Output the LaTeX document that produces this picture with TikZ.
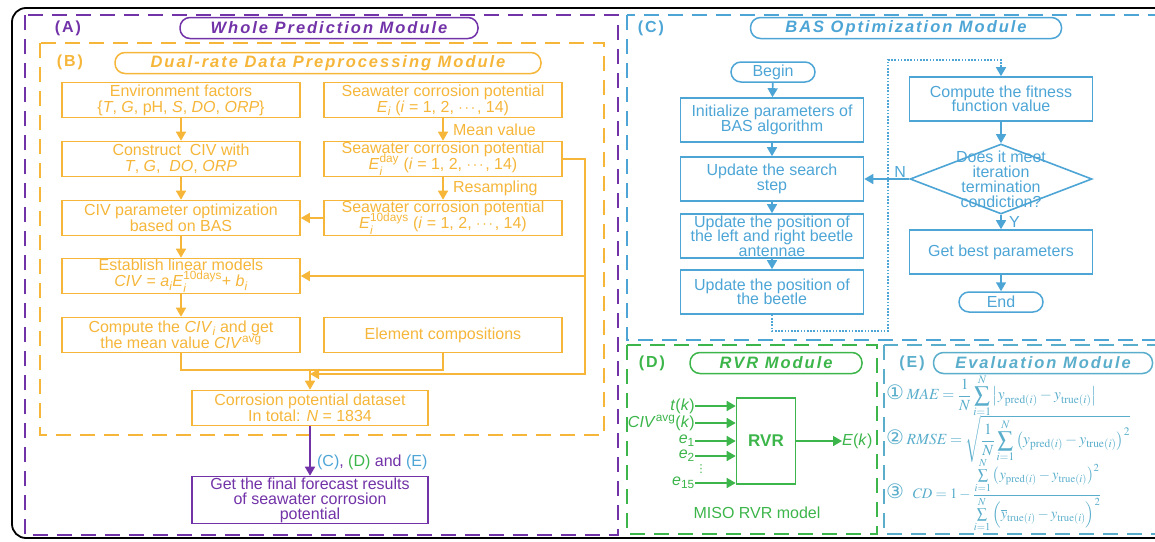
\documentclass[tikz,border=0pt]{standalone}
\usepackage{mathptmx}
\usepackage{amsmath}
\usepackage[no-math]{fontspec}
\setmainfont{Liberation Sans}
\newfontfamily\titlefont[LetterSpace=12]{Liberation Sans}
\newfontfamily\circfont{DejaVu Sans}
\usetikzlibrary{arrows.meta,shapes.geometric}

\definecolor{modA}{HTML}{7232A8}
\definecolor{modB}{HTML}{F5B63A}
\definecolor{modC}{HTML}{4DA5D6}
\definecolor{modD}{HTML}{3CB54A}
\definecolor{modE}{HTML}{5AAECB}

% keep the lines of a box at a fixed distance, super- and subscripts included
\newcommand\tightlines{\lineskiplimit=-20pt\lineskip=0pt\relax}

\begin{document}
\begin{tikzpicture}[
x=1pt, y=-1pt,
font=\fontsize{16}{16}\selectfont\tightlines,
frame/.style={line width=1.8pt, dash pattern=on 15pt off 9pt},
pill/.style={draw, line width=1.5pt, rounded corners=10pt, minimum height=21pt,
  inner sep=0pt, font=\fontsize{16.5}{16}\titlefont\bfseries\itshape},
tag/.style={font=\fontsize{16}{16}\titlefont\bfseries},
box/.style={draw, line width=1.6pt, align=center, inner sep=0pt},
obox/.style={box, draw=modB, text=modB, minimum width=238pt, minimum height=35pt},
pbox/.style={box, draw=modA, text=modA, minimum width=236pt, minimum height=47pt,
  font=\fontsize{16}{15}\selectfont\tightlines},
cbox/.style={box, draw=modC, text=modC, minimum width=183pt, minimum height=44pt,
  font=\fontsize{16}{14.5}\selectfont\tightlines},
cpill/.style={draw=modC, text=modC, line width=1.5pt, rounded corners=10pt,
  minimum width=84pt, minimum height=20pt, inner sep=0pt},
oline/.style={draw=modB, line width=1.6pt},
oarr/.style={oline, -{Triangle[length=9pt,width=10pt]}},
parr/.style={draw=modA, line width=1.6pt, -{Triangle[length=9pt,width=10pt]}},
carr/.style={draw=modC, line width=1.6pt, -{Triangle[length=9pt,width=10pt]}},
cdot/.style={carr, dash pattern=on 1.6pt off 1.6pt},
garr/.style={draw=modD, line width=1.6pt, -{Triangle[length=9pt,width=10pt]}},
gtext/.style={text=modD, inner sep=0pt},
eform/.style={text=modE, anchor=west, inner sep=0pt, font=\fontsize{15.5}{15}\selectfont}
]
\useasboundingbox (0,0) rectangle (1155,541);
\clip (0,0) rectangle (1155,541);

\draw[line width=1.8pt, rounded corners=14pt] (12,8) rectangle (1190,538);

% module frames
\draw[frame, draw=modA] (25,15) rectangle (618,535);
\draw[frame, draw=modB] (40,43) rectangle (604,435);
\draw[frame, draw=modC] (627,15) rectangle (1170,340);
\draw[frame, draw=modD] (627,345) rectangle (877,534);
\draw[frame, draw=modE] (884,345) rectangle (1170,534);

% (A) and (B)
\node[tag, text=modA] (TagA) at (68,28) {(A)};
\node[pill, draw=modA, text=modA, minimum width=298pt] (TitleA) at (329,28) {Whole Prediction Module};
\node[tag, text=modB] (TagB) at (70,62) {(B)};
\node[pill, draw=modB, text=modB, minimum width=426pt] (TitleB) at (328,63) {Dual-rate Data Preprocessing Module};

\node[obox] (Env) at (181,100) {Environment factors\\\{\textit{T}, \textit{G}, pH, \textit{S}, \textit{DO}, \textit{ORP}\}};
\node[obox] (Cons) at (181,159) {Construct\ \ CIV with\\\textit{T}, \textit{G},\ \ \textit{DO}, \textit{ORP}};
\node[obox] (Opt) at (181,218) {CIV parameter optimization\\based on BAS};
\node[obox] (Lin) at (181,276) {Establish linear models\\\textit{CIV} = \textit{a}$_{\textit{i}}$\textit{E}$_{\textit{i}}^{\text{10days}}$+ \textit{b}$_{\textit{i}}$};
\node[obox] (Comp) at (181,335) {Compute the \textit{CIV}$_{\textit{i}}$ and get\\the mean value \textit{CIV}$^{\text{avg}}$};

\node[obox] (Ei) at (443,100) {Seawater corrosion potential\\\textit{E}$_{\textit{i}}$ (\textit{i} = 1, 2, $\cdots$, 14)};
\node[obox] (Eday) at (443,159) {Seawater corrosion potential\\\textit{E}$_{\textit{i}}^{\text{day}}$ (\textit{i} = 1, 2, $\cdots$, 14)};
\node[obox] (Eten) at (443,218) {Seawater corrosion potential\\\textit{E}$_{\textit{i}}^{\text{10days}}$ (\textit{i} = 1, 2, $\cdots$, 14)};
\node[obox] (Elem) at (443,335) {Element compositions};

\node[obox, minimum width=236pt] (Data) at (310,408) {Corrosion potential dataset\\In total: \textit{N} = 1834};
\node[pbox] (Final) at (310,500) {Get the final forecast results\\of seawater corrosion\\potential};

\draw[oarr] (Env) -- (Cons);
\draw[oarr] (Cons) -- (Opt);
\draw[oarr] (Opt) -- (Lin);
\draw[oarr] (Lin) -- (Comp);
\draw[oarr] (Ei) -- node[right, text=modB, xshift=6pt] {Mean value} (Eday);
\draw[oarr] (Eday) -- node[right, text=modB, xshift=6pt] {Resampling} (Eten);
\draw[oarr] (Eten) -- (Opt);

\coordinate (Mid) at (310,370);
\coordinate (RtTurn) at (585,374);
\draw[oline] (Comp.south) |- (Mid) -| (Elem.south);
\draw[oarr] (Mid) -- (Data.north);
\draw[oarr] (Eday.east) -| (RtTurn) -- (Mid |- RtTurn);
\draw[oarr] (RtTurn |- Lin.east) -- (Lin.east);

\draw[parr] (Data) -- node[pos=0.72, right, text=modA, xshift=3pt]
  {\textcolor{modC}{(C)}, \textcolor{modD}{(D)} and \textcolor{modC}{(E)}} (Final);

% (C) BAS optimization
\node[tag, text=modC] (TagC) at (651,28) {(C)};
\node[pill, draw=modC, text=modC, minimum width=311pt] (TitleC) at (906,28) {BAS Optimization Module};

\node[cpill] (Begin) at (773,72) {Begin};
\node[cbox] (Init) at (772,120) {Initialize parameters of\\BAS algorithm};
\node[cbox] (Search) at (772,179) {Update the search\\step};
\node[cbox] (Anten) at (772,236) {Update the position of\\the left and right beetle\\antennae};
\node[cbox] (Beetle) at (772,292) {Update the position of\\the beetle};

\node[cbox] (Fit) at (1001,99) {Compute the fitness\\function value};
\node[diamond, draw=modC, line width=1.6pt, minimum width=182pt, minimum height=70pt,
  aspect=2.6, inner sep=0pt,
  label={[text=modC, align=center, font=\fontsize{16}{15}\selectfont]center:Does it meet\\iteration\\termination\\condiction?}] (Cond) at (1001,179) {};
\node[cbox] (Best) at (1001,252) {Get best parameters};
\node[cpill] (End) at (1001,302) {End};

\draw[carr] (Begin) -- (Init);
\draw[carr] (Init) -- (Search);
\draw[carr] (Search) -- (Anten);
\draw[carr] (Anten) -- (Beetle);
\draw[carr] (Fit) -- (Cond);
\draw[carr] (Cond) -- node[right, text=modC, xshift=4pt] {Y} (Best);
\draw[carr] (Best) -- (End);
\draw[carr] (Cond.west) -- node[pos=0.2, above, text=modC, inner sep=1pt] {N} (Search.east);

\coordinate (LoopL) at (888,331);
\coordinate (LoopT) at (888,60);
\draw[cdot] (Beetle.south) |- (LoopL) -- (LoopT) -| (Fit.north);

% (D) RVR
\node[tag, text=modD] (TagD) at (652,363) {(D)};
\node[pill, draw=modD, text=modD, minimum width=172pt] (TitleD) at (776,363) {RVR Module};

\node[box, draw=modD, text=modD, minimum width=59pt, minimum height=86pt,
  font=\fontsize{17}{17}\selectfont\bfseries] (RVR) at (766,441) {RVR};

\node[gtext, anchor=east] (Tk) at (695,406) {\textit{t}(\textit{k})};
\node[gtext, anchor=east] (Ck) at (695,423) {\textit{CIV}$^{\text{avg}}$(\textit{k})};
\node[gtext, anchor=east] (Ea) at (695,441) {\textit{e}\textsubscript{1}};
\node[gtext, anchor=east] (Eb) at (695,456) {\textit{e}\textsubscript{2}};
\node[gtext, font=\fontsize{11}{11}\circfont] (Dots) at (701,469) {⋮};
\node[gtext, anchor=east] (Ec) at (695,483) {\textit{e}\textsubscript{15}};

\draw[garr] (Tk.east) -- (Tk.east -| RVR.west);
\draw[garr] (Ck.east) -- (Ck.east -| RVR.west);
\draw[garr] (Ea.east) -- (Ea.east -| RVR.west);
\draw[garr] (Eb.east) -- (Eb.east -| RVR.west);
\draw[garr] (Ec.east) -- (Ec.east -| RVR.west);

\node[gtext, anchor=west] (Ek) at (842,441) {\textit{E}(\textit{k})};
\draw[garr] (RVR.east) -- (Ek.west);
\node[gtext] (Miso) at (757,513) {MISO RVR model};

% (E) evaluation
\node[tag, text=modE] (TagE) at (912,363) {(E)};
\node[pill, draw=modE, text=modE, minimum width=219pt] (TitleE) at (1043,363) {Evaluation Module};

\node[eform] (Mae) at (886,396) {{\fontsize{20}{20}\circfont ①}\,$\displaystyle \mathit{MAE}=\frac{1}{N}\sum_{i=1}^{N}\left|y_{\mathrm{pred}(i)}-y_{\mathrm{true}(i)}\right|$};
\node[eform] (Rmse) at (886,439) {{\fontsize{20}{20}\circfont ②}\,$\displaystyle \mathit{RMSE}=\sqrt{\frac{1}{N}\sum_{i=1}^{N}\left(y_{\mathrm{pred}(i)}-y_{\mathrm{true}(i)}\right)^{2}}$};
\node[eform, font=\fontsize{14.5}{14}\selectfont] (Cd) at (886,495) {{\fontsize{20}{20}\circfont ③}\ \ $\displaystyle \mathit{CD}=1-\frac{\sum\limits_{i=1}^{N}\left(y_{\mathrm{pred}(i)}-y_{\mathrm{true}(i)}\right)^{2}}{\sum\limits_{i=1}^{N}\left(\overline{y}_{\mathrm{true}(i)}-y_{\mathrm{true}(i)}\right)^{2}}$};

\end{tikzpicture}
\end{document}
